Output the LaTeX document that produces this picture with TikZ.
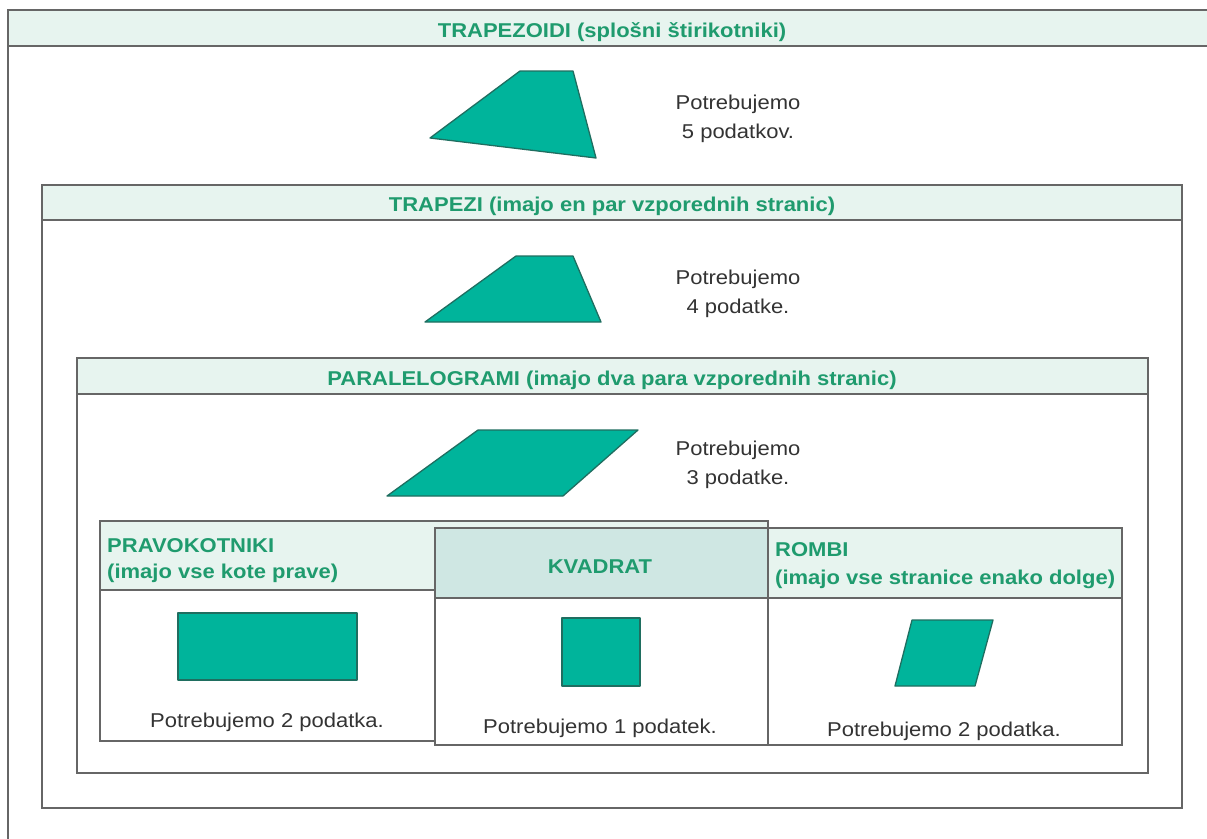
\documentclass[tikz,border=0pt]{standalone}
\usepackage{fontspec}
\setmainfont[FakeStretch=1.1]{Liberation Sans}
\definecolor{tealfig}{HTML}{00B49B}
\definecolor{tealline}{HTML}{1F6E60}
\definecolor{hdrfill}{HTML}{E7F4EF}
\definecolor{kvfill}{HTML}{CFE7E3}
\definecolor{hdrtext}{HTML}{1F9B6E}
\definecolor{boxline}{HTML}{666666}
\definecolor{bodytext}{HTML}{333333}
\begin{document}
\begin{tikzpicture}[x=1pt,y=-1pt,
  boxframe/.style={draw=boxline,line width=1.6pt},
  hdrband/.style={boxframe,fill=hdrfill},
  figfill/.style={fill=tealfig,draw=tealline,line width=1.3pt,line join=round},
  hdrlabel/.style={font=\fontsize{20}{26}\selectfont\bfseries,text=hdrtext,inner sep=0pt},
  bodytxt/.style={font=\fontsize{20}{29}\selectfont,text=bodytext,inner sep=0pt,align=center}]
\useasboundingbox (0,0) rectangle (1207,838);
\clip (0,0) rectangle (1207,838);
\fill[white] (0,0) rectangle (1207,838);

% level 1: trapezoidi
\draw[boxframe] (8,10) rectangle (1230,860);
\draw[hdrband] (8,10) rectangle (1230,46);
\node[hdrlabel] (t1) at (612,32) {TRAPEZOIDI (splošni štirikotniki)};
\draw[figfill] (430,138) -- (520,71) -- (573,71) -- (596,158) -- cycle;
\node[bodytxt] (p1) at (738,119) {Potrebujemo\\5 podatkov.};

% level 2: trapezi
\draw[boxframe,fill=white] (42,185) rectangle (1182,808);
\draw[hdrband] (42,185) rectangle (1182,220);
\node[hdrlabel] (t2) at (612,206) {TRAPEZI (imajo en par vzporednih stranic)};
\draw[figfill] (425,322) -- (516,256) -- (573,256) -- (601,322) -- cycle;
\node[bodytxt] (p2) at (738,294) {Potrebujemo\\4 podatke.};

% level 3: paralelogrami
\draw[boxframe,fill=white] (77,358) rectangle (1148,773);
\draw[hdrband] (77,358) rectangle (1148,394);
\node[hdrlabel] (t3) at (612,380) {PARALELOGRAMI (imajo dva para vzporednih stranic)};
\draw[figfill] (387,496) -- (478,430) -- (638,430) -- (563,496) -- cycle;
\node[bodytxt] (p3) at (738,465) {Potrebujemo\\3 podatke.};

% pravokotniki
\draw[boxframe,fill=white] (100,521) rectangle (768,741);
\draw[hdrband] (100,521) rectangle (768,590);
\node[hdrlabel,anchor=west,align=left] (t4) at (107,561) {PRAVOKOTNIKI\\(imajo vse kote prave)};
\draw[figfill] (178,613) rectangle (357,680);
\node[bodytxt] (p4) at (267,722) {Potrebujemo 2 podatka.};

% rombi
\draw[boxframe,fill=white] (768,528) rectangle (1122,745);
\draw[hdrband] (768,528) rectangle (1122,598);
\node[hdrlabel,anchor=west,align=left,font=\fontsize{20}{28}\selectfont\bfseries] (t6) at (775,566) {ROMBI\\(imajo vse stranice enako dolge)};
\draw[figfill] (895,686) -- (912,620) -- (993,620) -- (975,686) -- cycle;
\node[bodytxt] (p6) at (944,731) {Potrebujemo 2 podatka.};

% kvadrat
\draw[boxframe,fill=white] (435,528) rectangle (768,745);
\draw[boxframe,fill=kvfill] (435,528) rectangle (768,598);
\node[hdrlabel] (t5) at (600,567) {KVADRAT};
\draw[figfill] (562,618) rectangle (640,686);
\node[bodytxt] (p5) at (600,728) {Potrebujemo 1 podatek.};
\end{tikzpicture}
\end{document}
